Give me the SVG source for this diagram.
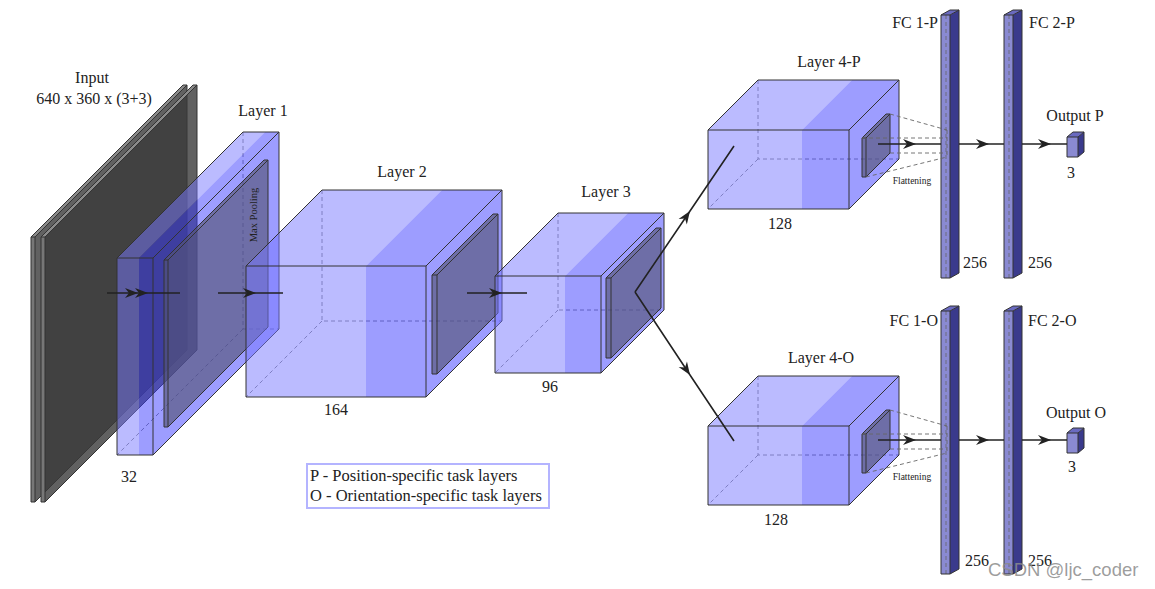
<svg xmlns="http://www.w3.org/2000/svg" width="1155" height="589" viewBox="0 0 1155 589">
<defs>
<style>
.lt{fill:#7878ff;fill-opacity:.5}
.bd{fill:#3c3cff;fill-opacity:.5}
.pl{fill:#555578;fill-opacity:.65}
.ol{fill:none;stroke:#333;stroke-width:1;stroke-linejoin:round}
.hd{fill:none;stroke:#666;stroke-width:.8;stroke-dasharray:4 3}
.sf{fill:#3a3a3a;fill-opacity:.8}
.sfr{fill:#777}
.stp{fill:#8a8a8a}
.fcf{fill:#8a8ad2}
.fcs{fill:#3a3a8c}
.fct{fill:#6a6ac0}
.t{font-family:"Liberation Serif","Times New Roman",serif;fill:#222;font-size:16px}
.tc{text-anchor:middle}
.te{text-anchor:end}
.sm{font-size:10.5px}
.fl{font-size:9.5px}
.lg{font-size:16.5px}
.cn{fill:none;stroke:#222;stroke-width:1.6;marker-mid:url(#ah)}
.fd{fill:none;stroke:#666;stroke-width:.9;stroke-dasharray:4 3}
</style>
<marker id="ah" viewBox="-14 -6 16 12" refX="0" refY="0" markerWidth="16" markerHeight="12" markerUnits="userSpaceOnUse" orient="auto">
<path d="M0,0 L-13,-5 L-9,0 L-13,5 Z" fill="#222"/>
</marker>
</defs>
<rect width="1155" height="589" fill="#fff"/>

<g id="input">
<polygon class="sf" points="35,237 187,85 187,350 35,502"/>
<rect class="sfr" x="31" y="237" width="4" height="265"/>
<polygon class="stp" points="31,237 35,237 187,85 183,85"/>
<path class="ol" d="M31,237 H35 V502 H31 Z M31,237 L183,85 H187 L35,237 M187,85 V350 L35,502"/>
<polygon class="sf" points="45,237 197,85 197,350 45,502"/>
<rect class="sfr" x="41" y="237" width="4" height="265"/>
<polygon class="stp" points="41,237 45,237 197,85 193,85"/>
<path class="ol" d="M41,237 H45 V502 H41 Z M41,237 L193,85 H197 L45,237 M197,85 V350 L45,502"/>
<text class="t tc" x="92" y="83">Input</text>
<text class="t tc" x="94" y="104">640 x 360 x (3+3)</text>
</g>

<g id="layer1">
<path class="hd" d="M243,132 V329 H279 M243,329 L117,455"/>
<rect class="lt" x="117" y="258" width="22" height="197"/>
<rect class="bd" x="139" y="258" width="14" height="197"/>
<polygon class="lt" points="117,258 139,258 265,132 243,132"/>
<polygon class="bd" points="139,258 153,258 279,132 265,132"/>
<polygon class="bd" points="153,258 279,132 279,329 153,455"/>
<path class="ol" d="M117,258 H153 V455 H117 Z M117,258 L243,132 H279 L153,258 M279,132 V329 L153,455"/>
<polygon class="pl" points="164,260 168,260 168,427 164,427"/>
<polygon class="pl" points="164,260 168,260 268,160 264,160"/>
<polygon class="pl" points="168,260 268,160 268,327 168,427"/>
<path class="ol" d="M164,260 H168 V427 H164 Z M164,260 L264,160 H268 L168,260 M268,160 V327 L168,427"/>
<text class="t tc sm" transform="translate(257,215) rotate(-90)">Max Pooling</text>
<text class="t tc" x="263" y="116">Layer 1</text>
<text class="t tc" x="129" y="482">32</text>
</g>

<g id="layer2">
<path class="hd" d="M322,190 V321 H502 M322,321 L246,397"/>
<rect class="lt" x="246" y="266" width="120" height="131"/>
<rect class="bd" x="366" y="266" width="60" height="131"/>
<polygon class="lt" points="246,266 366,266 442,190 322,190"/>
<polygon class="bd" points="366,266 426,266 502,190 442,190"/>
<polygon class="bd" points="426,266 502,190 502,321 426,397"/>
<path class="ol" d="M246,266 H426 V397 H246 Z M246,266 L322,190 H502 L426,266 M502,190 V321 L426,397"/>
<polygon class="pl" points="432,275 437,275 437,374 432,374"/>
<polygon class="pl" points="432,275 437,275 498,214 493,214"/>
<polygon class="pl" points="437,275 498,214 498,313 437,374"/>
<path class="ol" d="M432,275 H437 V374 H432 Z M432,275 L493,214 H498 L437,275 M498,214 V313 L437,374"/>
<text class="t tc" x="402" y="177">Layer 2</text>
<text class="t tc" x="336" y="415">164</text>
</g>

<g id="layer3">
<path class="hd" d="M558,213 V310 H664 M558,310 L495,373"/>
<rect class="lt" x="495" y="276" width="70" height="97"/>
<rect class="bd" x="565" y="276" width="36" height="97"/>
<polygon class="lt" points="495,276 565,276 628,213 558,213"/>
<polygon class="bd" points="565,276 601,276 664,213 628,213"/>
<polygon class="bd" points="601,276 664,213 664,310 601,373"/>
<path class="ol" d="M495,276 H601 V373 H495 Z M495,276 L558,213 H664 L601,276 M664,213 V310 L601,373"/>
<polygon class="pl" points="606,278 611,278 611,358 606,358"/>
<polygon class="pl" points="606,278 611,278 661,228 656,228"/>
<polygon class="pl" points="611,278 661,228 661,308 611,358"/>
<path class="ol" d="M606,278 H611 V358 H606 Z M606,278 L656,228 H661 L611,278 M661,228 V308 L611,358"/>
<text class="t tc" x="606" y="197">Layer 3</text>
<text class="t tc" x="550" y="392">96</text>
</g>

<g id="layer4p">
<path class="hd" d="M758,80 V159 H899 M758,159 L708,209"/>
<rect class="lt" x="708" y="130" width="94" height="79"/>
<rect class="bd" x="802" y="130" width="47" height="79"/>
<polygon class="lt" points="708,130 802,130 852,80 758,80"/>
<polygon class="bd" points="802,130 849,130 899,80 852,80"/>
<polygon class="bd" points="849,130 899,80 899,159 849,209"/>
<path class="ol" d="M708,130 H849 V209 H708 Z M708,130 L758,80 H899 L849,130 M899,80 V159 L849,209"/>
<polygon class="pl" points="862,138 866,138 866,177 862,177"/>
<polygon class="pl" points="862,138 866,138 890,114 886,114"/>
<polygon class="pl" points="866,138 890,114 890,153 866,177"/>
<path class="ol" d="M862,138 H866 V177 H862 Z M862,138 L886,114 H890 L866,138 M890,114 V153 L866,177"/>
<text class="t tc" x="829" y="67">Layer 4-P</text>
<text class="t tc" x="780" y="229">128</text>
<text class="t tc fl" x="912" y="184">Flattening</text>
</g>

<g id="layer4o">
<path class="hd" d="M758,376 V455 H899 M758,455 L708,505"/>
<rect class="lt" x="708" y="426" width="94" height="79"/>
<rect class="bd" x="802" y="426" width="47" height="79"/>
<polygon class="lt" points="708,426 802,426 852,376 758,376"/>
<polygon class="bd" points="802,426 849,426 899,376 852,376"/>
<polygon class="bd" points="849,426 899,376 899,455 849,505"/>
<path class="ol" d="M708,426 H849 V505 H708 Z M708,426 L758,376 H899 L849,426 M899,376 V455 L849,505"/>
<polygon class="pl" points="862,434 866,434 866,473 862,473"/>
<polygon class="pl" points="862,434 866,434 890,410 886,410"/>
<polygon class="pl" points="866,434 890,410 890,449 866,473"/>
<path class="ol" d="M862,434 H866 V473 H862 Z M862,434 L886,410 H890 L866,434 M890,410 V449 L866,473"/>
<text class="t tc" x="821" y="363">Layer 4-O</text>
<text class="t tc" x="776" y="525">128</text>
<text class="t tc fl" x="912" y="480">Flattening</text>
</g>

<g id="fc1p">
<rect class="fcf" x="941" y="15" width="9" height="263"/>
<polygon class="fcs" points="950,15 959,10 959,273 950,278"/>
<polygon class="fct" points="941,15 950,15 959,10 950,10"/>
<path class="hd" d="M946,15 V278"/>
<path class="ol" d="M941,15 H950 V278 H941 Z M941,15 L950,10 H959 L950,15 M959,10 V273 L950,278"/>
<text class="t te" x="938" y="28">FC 1-P</text>
<text class="t" x="963" y="268">256</text>
</g>

<g id="fc2p">
<rect class="fcf" x="1004" y="15" width="9" height="263"/>
<polygon class="fcs" points="1013,15 1022,10 1022,273 1013,278"/>
<polygon class="fct" points="1004,15 1013,15 1022,10 1013,10"/>
<path class="hd" d="M1009,15 V278"/>
<path class="ol" d="M1004,15 H1013 V278 H1004 Z M1004,15 L1013,10 H1022 L1013,15 M1022,10 V273 L1013,278"/>
<text class="t" x="1029" y="28">FC 2-P</text>
<text class="t" x="1028" y="268">256</text>
</g>

<g id="outp">
<rect class="fcf" x="1067" y="137" width="11" height="20"/>
<polygon class="fcs" points="1078,137 1084,132 1084,152 1078,157"/>
<polygon class="fct" points="1067,137 1078,137 1084,132 1073,132"/>
<path class="ol" d="M1067,137 H1078 V157 H1067 Z M1067,137 L1073,132 H1084 L1078,137 M1084,132 V152 L1078,157"/>
<text class="t tc" x="1075" y="121">Output P</text>
<text class="t tc" x="1071" y="178">3</text>
</g>

<g id="fc1o">
<rect class="fcf" x="941" y="311" width="9" height="263"/>
<polygon class="fcs" points="950,311 959,306 959,569 950,574"/>
<polygon class="fct" points="941,311 950,311 959,306 950,306"/>
<path class="hd" d="M946,311 V574"/>
<path class="ol" d="M941,311 H950 V574 H941 Z M941,311 L950,306 H959 L950,311 M959,306 V569 L950,574"/>
<text class="t te" x="938" y="326">FC 1-O</text>
<text class="t" x="965" y="566">256</text>
</g>

<g id="fc2o">
<rect class="fcf" x="1004" y="311" width="9" height="263"/>
<polygon class="fcs" points="1013,311 1022,306 1022,569 1013,574"/>
<polygon class="fct" points="1004,311 1013,311 1022,306 1013,306"/>
<path class="hd" d="M1009,311 V574"/>
<path class="ol" d="M1004,311 H1013 V574 H1004 Z M1004,311 L1013,306 H1022 L1013,311 M1022,306 V569 L1013,574"/>
<text class="t" x="1028" y="326">FC 2-O</text>
<text class="t" x="1028" y="566">256</text>
</g>

<g id="outo">
<rect class="fcf" x="1067" y="433" width="11" height="20"/>
<polygon class="fcs" points="1078,433 1084,428 1084,448 1078,453"/>
<polygon class="fct" points="1067,433 1078,433 1084,428 1073,428"/>
<path class="ol" d="M1067,433 H1078 V453 H1067 Z M1067,433 L1073,428 H1084 L1078,433 M1084,428 V448 L1078,453"/>
<text class="t tc" x="1076" y="418">Output O</text>
<text class="t tc" x="1072" y="472">3</text>
</g>

<g id="legend">
<rect x="307" y="464" width="242" height="44" fill="#fff" stroke="#b4b4ff" stroke-width="2"/>
<text class="t lg" x="310" y="481">P - Position-specific task layers</text>
<text class="t lg" x="310" y="501">O - Orientation-specific task layers</text>
</g>

<g id="connectors">
<path class="cn" d="M107,293 L138,293 L148,293 L180,293"/>
<path class="cn" d="M218,293 L256,293 L283,293"/>
<path class="cn" d="M467,293 L502,293 L527,293"/>
<path class="cn" d="M635,292 L690,211 L734,146"/>
<path class="cn" d="M635,292 L690,375 L734,441"/>
<path class="fd" d="M890,114 L947,130 M862,138 H947 M890,153 H947 M866,177 L947,157 M947,130 V157"/>
<path class="cn" d="M878,144 L916,144 L941,144"/>
<path class="cn" d="M959,144 L989,144 L1004,144"/>
<path class="cn" d="M1022,144 L1051,144 L1067,144"/>
<path class="fd" d="M890,410 L947,426 M862,434 H947 M890,449 H947 M866,473 L947,453 M947,426 V453"/>
<path class="cn" d="M878,440 L916,440 L941,440"/>
<path class="cn" d="M959,440 L989,440 L1004,440"/>
<path class="cn" d="M1022,440 L1051,440 L1067,440"/>
</g>

<text x="988" y="576" font-family="'Liberation Sans',Arial,sans-serif" font-size="18.5" fill="#8c8c8c" fill-opacity=".85">CSDN @ljc_coder</text>
</svg>
